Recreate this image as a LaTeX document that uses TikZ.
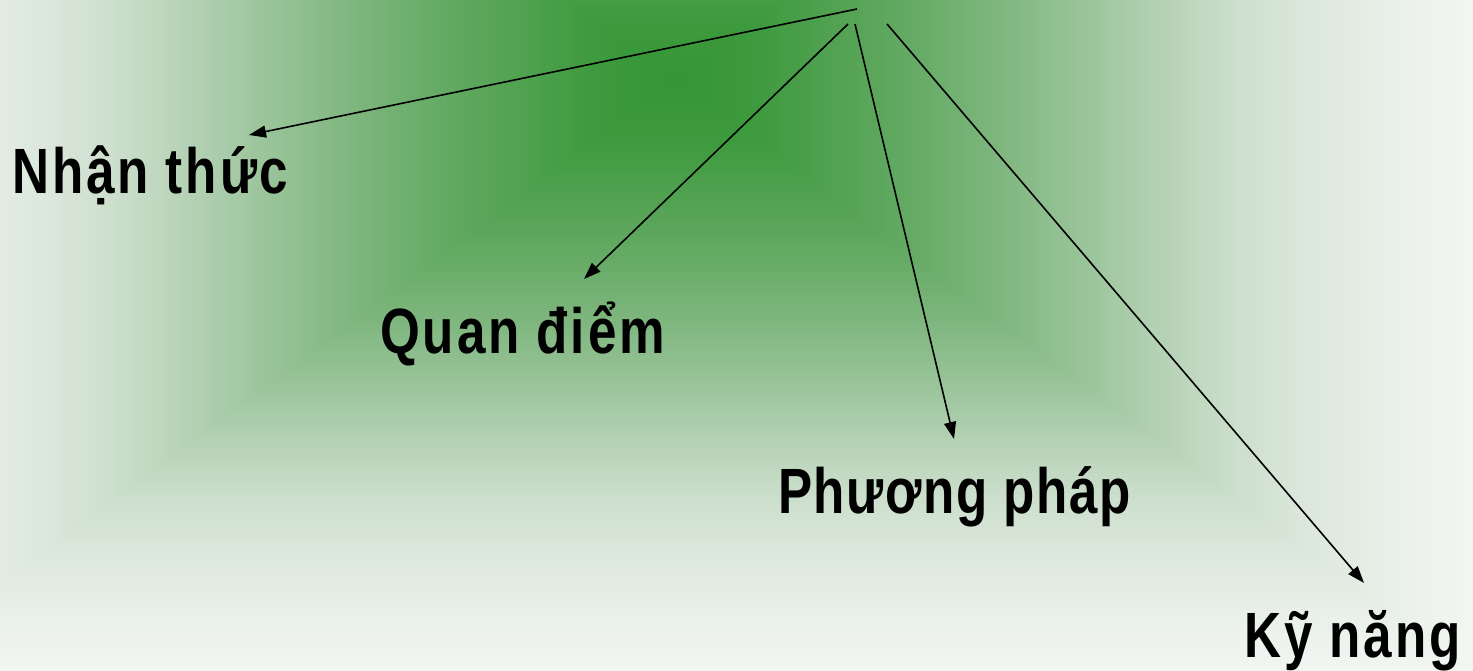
\documentclass[tikz,border=0pt]{standalone}
\usepackage{fontspec}
\setmainfont{Liberation Sans}[FakeStretch=0.80, LetterSpace=4.5]
\usetikzlibrary{arrows.meta}
\definecolor{s0}{RGB}{52,150,52}
\definecolor{s1}{RGB}{62,154,62}
\definecolor{s2}{RGB}{82,162,82}
\definecolor{s3}{RGB}{102,171,102}
\definecolor{s4}{RGB}{126,182,126}
\definecolor{s5}{RGB}{152,195,152}
\definecolor{s6}{RGB}{180,209,180}
\definecolor{s7}{RGB}{205,223,205}
\definecolor{s8}{RGB}{222,233,222}
\definecolor{s9}{RGB}{234,240,234}
\definecolor{s10}{RGB}{244,247,244}
\pgfdeclarehorizontalshading{hIO}{100bp}{color(0bp)=(s0); color(25bp)=(s0); color(30bp)=(s1); color(35bp)=(s2); color(40bp)=(s3); color(45bp)=(s4); color(50bp)=(s5); color(55bp)=(s6); color(60bp)=(s7); color(65bp)=(s8); color(70bp)=(s9); color(75bp)=(s10); color(100bp)=(s10)}
\pgfdeclarehorizontalshading{hOI}{100bp}{color(0bp)=(s10); color(25bp)=(s10); color(30bp)=(s9); color(35bp)=(s8); color(40bp)=(s7); color(45bp)=(s6); color(50bp)=(s5); color(55bp)=(s4); color(60bp)=(s3); color(65bp)=(s2); color(70bp)=(s1); color(75bp)=(s0); color(100bp)=(s0)}
\pgfdeclareverticalshading{vIO}{100bp}{color(0bp)=(s0); color(25bp)=(s0); color(30bp)=(s1); color(35bp)=(s2); color(40bp)=(s3); color(45bp)=(s4); color(50bp)=(s5); color(55bp)=(s6); color(60bp)=(s7); color(65bp)=(s8); color(70bp)=(s9); color(75bp)=(s10); color(100bp)=(s10)}
\pgfdeclareverticalshading{vOI}{100bp}{color(0bp)=(s10); color(25bp)=(s10); color(30bp)=(s9); color(35bp)=(s8); color(40bp)=(s7); color(45bp)=(s6); color(50bp)=(s5); color(55bp)=(s4); color(60bp)=(s3); color(65bp)=(s2); color(70bp)=(s1); color(75bp)=(s0); color(100bp)=(s0)}
\tikzset{
  lbl/.style={font=\bfseries\fontsize{64}{70}\selectfont, inner sep=0pt, anchor=base west, text=black},
  arr/.style={line width=1.6pt, draw=black, -{Triangle[length=17pt,width=12pt]}}
}
\begin{document}
\begin{tikzpicture}[x=1pt,y=-1pt]
\useasboundingbox (0,0) rectangle (1473,670);
\begin{scope}
  \clip (0,0) rectangle (1473,670);
  \shade[shading=hOI] (-130,-520) rectangle (675,680);
  \shade[shading=hIO] (675,-520) rectangle (1480,680);
  \begin{scope}
    \clip (675,80) -- (-130,-520) -- (1480,-520) -- cycle;
    \shade[shading=vIO] (-130,-520) rectangle (1480,80);
  \end{scope}
  \begin{scope}
    \clip (675,80) -- (-130,680) -- (1480,680) -- cycle;
    \shade[shading=vOI] (-130,80) rectangle (1480,680);
  \end{scope}
\end{scope}
\node[lbl] (nt) at (12,193) {Nhận thức};
\node[lbl] (qd) at (380,353) {Quan điểm};
\node[lbl] (pp) at (778,513) {\addfontfeature{LetterSpace=2.5}Phương pháp};
\node[lbl] (kn) at (1244,657) {Kỹ năng};
\coordinate (s1) at (857,9);
\coordinate (s2) at (848,24);
\coordinate (s3) at (855,24);
\coordinate (s4) at (887,24);
\coordinate (t1) at (249,135);
\coordinate (t2) at (584,279);
\coordinate (t3) at (954,439);
\coordinate (t4) at (1364,583);
\draw[arr] (s1) -- (t1);
\draw[arr] (s2) -- (t2);
\draw[arr] (s3) -- (t3);
\draw[arr] (s4) -- (t4);
\end{tikzpicture}
\end{document}
